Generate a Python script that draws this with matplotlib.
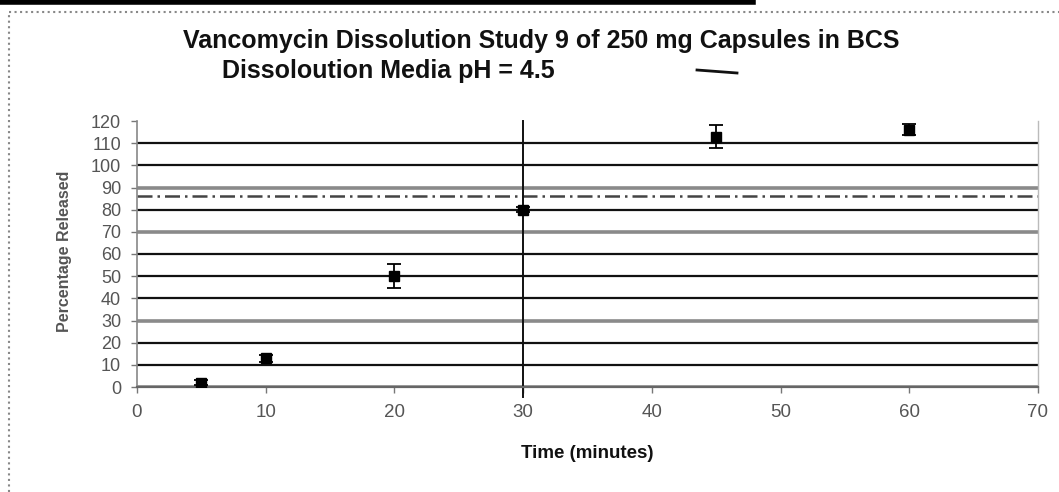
import matplotlib
matplotlib.use("Agg")
import matplotlib.pyplot as plt
from matplotlib.lines import Line2D

plt.rcParams['font.family'] = ['Liberation Sans', 'DejaVu Sans']

# Data
time_min = [5, 10, 20, 30, 45, 60]
pct_released = [2, 13, 50, 80, 113, 116]
pct_err = [1, 1.5, 5.5, 1, 5.3, 2.5]
spec_limit = 86
marker_line_x = 30
x_ticks = [0, 10, 20, 30, 40, 50, 60, 70]
y_ticks = [0, 10, 20, 30, 40, 50, 60, 70, 80, 90, 100, 110, 120]
gray_grid_values = [0, 30, 70, 90]

title_line1 = "Vancomycin Dissolution Study 9 of 250 mg Capsules in BCS"
title_line2 = "Dissoloution Media pH = 4.5"
x_label = "Time (minutes)"
y_label = "Percentage Released"

W, H = 1059, 492
L, R, T, B = 137, 1038, 121, 387
fig = plt.figure(figsize=(W / 100, H / 100), dpi=100)
fig.patch.set_facecolor('white')

ax = fig.add_axes([L / W, 1 - B / H, (R - L) / W, (B - T) / H])
ax.set_xlim(0, 70)
ax.set_ylim(0, 120)
ax.set_xticks(x_ticks)
ax.set_yticks(y_ticks)

ax.grid(axis='y', color='#111111', linewidth=1.6)
ax.set_axisbelow(True)
for val, gl in zip(y_ticks, ax.get_ygridlines()):
    if val in gray_grid_values:
        gl.set_color('#8a8a8a')
        gl.set_linewidth(2.6)
    if val == 120:
        gl.set_visible(False)

ax.axhline(spec_limit, color='#444444', linewidth=1.8,
           linestyle=(0, (6, 2, 1, 2)), zorder=2)
ax.axvline(marker_line_x, ymin=-0.038, ymax=1.0, color='#111111',
           linewidth=1.4, clip_on=False, zorder=2)

ax.errorbar(time_min, pct_released, yerr=pct_err, fmt='s', color='black',
            markersize=7, ecolor='black', elinewidth=1.3, capsize=5,
            capthick=1.3, zorder=5)

ax.spines['top'].set_visible(False)
ax.spines['right'].set_color('#bbbbbb')
ax.spines['left'].set_color('#888888')
ax.spines['bottom'].set_color('#666666')
ax.spines['bottom'].set_linewidth(1.6)
ax.spines['left'].set_linewidth(1.2)
ax.spines['right'].set_linewidth(1.0)

ax.tick_params(axis='both', colors='#777777', labelcolor='#555555',
               length=4.5, width=1)
ax.tick_params(axis='x', labelsize=13.5, pad=8)
ax.tick_params(axis='y', labelsize=13, pad=7)

ax.set_xlabel(x_label, fontsize=13.5, fontweight='bold', color='#111111')
ax.set_ylabel(y_label, fontsize=11.5, fontweight='bold', color='#555555')
ax.xaxis.label.set_va('center')
ax.yaxis.label.set_va('center')
ax.xaxis.set_label_coords(((L + R) / 2 - L) / (R - L), (B - 453) / (B - T))
ax.yaxis.set_label_coords((65 - L) / (R - L), (B - 251) / (B - T))

fig.text(541 / W, 1 - 41 / H, title_line1, ha='center', va='center',
         fontsize=18, fontweight='bold', color='#111111')
fig.text(222 / W, 1 - 71 / H, title_line2, ha='left', va='center',
         fontsize=18, fontweight='bold', color='#111111')

# Hand-drawn mark and frame of the scanned figure
fig.add_artist(Line2D([697 / W, 737 / W], [1 - 70 / H, 1 - 73 / H],
                      transform=fig.transFigure, color='#111111', linewidth=2))
fig.add_artist(Line2D([0, 753 / W], [1 - 2 / H, 1 - 2 / H],
                      transform=fig.transFigure, color='black', linewidth=4))
fig.add_artist(Line2D([9 / W, 1], [1 - 12 / H, 1 - 12 / H],
                      transform=fig.transFigure, color='#888888',
                      linewidth=1.5, linestyle=':'))
fig.add_artist(Line2D([9 / W, 9 / W], [0, 1 - 12 / H],
                      transform=fig.transFigure, color='#888888',
                      linewidth=1.5, linestyle=':'))

fig.savefig('out.png', dpi=100)
